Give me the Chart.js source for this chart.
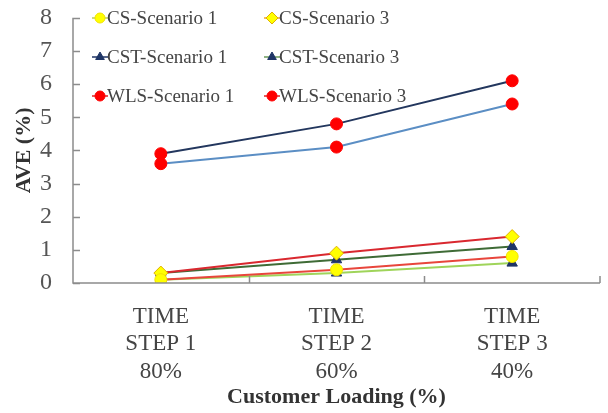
<!DOCTYPE html>
<html>
<head>
<meta charset="utf-8">
<script src="https://cdn.jsdelivr.net/npm/chart.js@4.4.1/dist/chart.umd.min.js"></script>
<style>
  html, body { margin: 0; padding: 0; background: #fff; }
  #wrap { position: relative; width: 608px; height: 413px; }
</style>
</head>
<body>
<div id="wrap"><canvas id="c" width="608" height="413"></canvas></div>
<script>
// categories (x axis) and y ticks
const categories = [["TIME", "STEP 1", "80%"], ["TIME", "STEP 2", "60%"], ["TIME", "STEP 3", "40%"]];
const yTicks = [0, 1, 2, 3, 4, 5, 6, 7, 8];

// series values (AVE %)
const csScen1 = [0.1, 0.4, 0.8];
const csScen3 = [0.3, 0.9, 1.4];
const cstScen1 = [0.1, 0.3, 0.6];
const cstScen3 = [0.3, 0.7, 1.1];
const wlsScen1 = [3.9, 4.8, 6.1];
const wlsScen3 = [3.6, 4.1, 5.4];

const serif = "'Liberation Serif', 'DejaVu Serif', serif";
const axisGray = '#8c8c8c';

const datasets = [
  { label: 'CS-Scenario 1', data: csScen1, borderColor: '#e8463c', pointStyle: 'circle', pointRadius: 6,
    pointBackgroundColor: '#ffff00', pointBorderColor: '#f2e200', legendLine: '#b8cc5a' },
  { label: 'CS-Scenario 3', data: csScen3, borderColor: '#d9282f', pointStyle: 'rectRot', pointRadius: 7,
    pointBackgroundColor: '#ffff00', pointBorderColor: '#e0b000', legendLine: '#f0a030' },
  { label: 'CST-Scenario 1', data: cstScen1, borderColor: '#9fd45a', pointStyle: 'triangle', pointRadius: 6,
    pointBackgroundColor: '#1f3566', pointBorderColor: '#1f3566', legendLine: '#1f3566' },
  { label: 'CST-Scenario 3', data: cstScen3, borderColor: '#3f6b36', pointStyle: 'triangle', pointRadius: 6,
    pointBackgroundColor: '#1f3566', pointBorderColor: '#1f3566', legendLine: '#6a9a5a' },
  { label: 'WLS-Scenario 1', data: wlsScen1, borderColor: '#23375e', pointStyle: 'circle', pointRadius: 6,
    pointBackgroundColor: '#ff0000', pointBorderColor: '#ff0000', legendLine: '#e02020' },
  { label: 'WLS-Scenario 3', data: wlsScen3, borderColor: '#5b8ec4', pointStyle: 'circle', pointRadius: 6,
    pointBackgroundColor: '#ff0000', pointBorderColor: '#ff0000', legendLine: '#e02020' }
];
datasets.forEach(d => { d.borderWidth = 2; d.tension = 0; d.fill = false; d.pointBorderWidth = 1; });

// inward tick marks + legend laid out in two columns inside the plot
const decor = {
  id: 'decor',
  afterDraw(chart) {
    const ctx = chart.ctx;
    const xs = chart.scales.x, ys = chart.scales.y;
    const a = chart.chartArea;
    ctx.save();
    ctx.strokeStyle = axisGray;
    ctx.lineWidth = 1.5;
    ctx.beginPath();
    ctx.moveTo(a.left, a.top); ctx.lineTo(a.left, a.bottom); ctx.lineTo(a.right, a.bottom);
    yTicks.forEach(v => {
      const y = Math.round(ys.getPixelForValue(v)) + 0.5;
      ctx.moveTo(a.left, y); ctx.lineTo(a.left + 7, y);
    });
    for (let i = 1; i <= categories.length; i++) {
      const x = (xs.getPixelForValue(i - 1) + xs.getPixelForValue(i)) / 2;
      const xx = i === categories.length ? a.right : Math.round(x) + 0.5;
      ctx.moveTo(xx, a.bottom); ctx.lineTo(xx, a.bottom - 7);
    }
    ctx.stroke();

    // legend
    const colX = [100, 272];
    const rowY = [18, 57, 96];
    ctx.font = '19px ' + serif;
    ctx.textBaseline = 'middle';
    ctx.fillStyle = '#444';
    chart.data.datasets.forEach((d, i) => {
      const x = colX[i % 2], y = rowY[Math.floor(i / 2)];
      ctx.strokeStyle = d.legendLine;
      ctx.lineWidth = 1.5;
      ctx.beginPath(); ctx.moveTo(x - 8, y); ctx.lineTo(x + 8, y); ctx.stroke();
      ctx.fillStyle = d.pointBackgroundColor;
      ctx.strokeStyle = d.pointBorderColor;
      ctx.lineWidth = 1;
      Chart.helpers.drawPoint(ctx, { pointStyle: d.pointStyle, radius: d.pointStyle === 'rectRot' ? 6 : 5, borderWidth: 1 }, x, y);
      ctx.fillStyle = '#444';
      ctx.fillText(d.label, x + 7, y + 1);
    });
    ctx.restore();
  }
};

new Chart(document.getElementById('c'), {
  type: 'line',
  data: { labels: categories, datasets: datasets },
  plugins: [decor],
  options: {
    responsive: false,
    animation: false,
    layout: { padding: { top: 15, right: 5, left: 0, bottom: 0 } },
    plugins: { legend: { display: false }, tooltip: { enabled: false } },
    scales: {
      x: {
        offset: true,
        grid: { display: false },
        border: { display: false },
        ticks: { color: '#444', font: { family: serif, size: 23, lineHeight: 1.2 }, padding: 12, maxRotation: 0 },
        title: { display: true, text: 'Customer Loading (%)', color: '#333',
                 font: { family: serif, size: 22, weight: 'bold' }, padding: { top: 0, bottom: 2 } },
        afterFit(s) { s.height = 130; }
      },
      y: {
        min: 0, max: 8,
        afterBuildTicks(s) { s.ticks = yTicks.map(v => ({ value: v })); },
        grid: { display: false },
        border: { display: false },
        ticks: { color: '#555', font: { family: serif, size: 24, lineHeight: 0.4 }, padding: 13 },
        title: { display: true, text: 'AVE (%)', color: '#333',
                 font: { family: serif, size: 22, weight: 'bold' }, padding: { top: 11, bottom: 0 } },
        afterFit(s) { s.width = 73; }
      }
    }
  }
});
</script>
</body>
</html>
